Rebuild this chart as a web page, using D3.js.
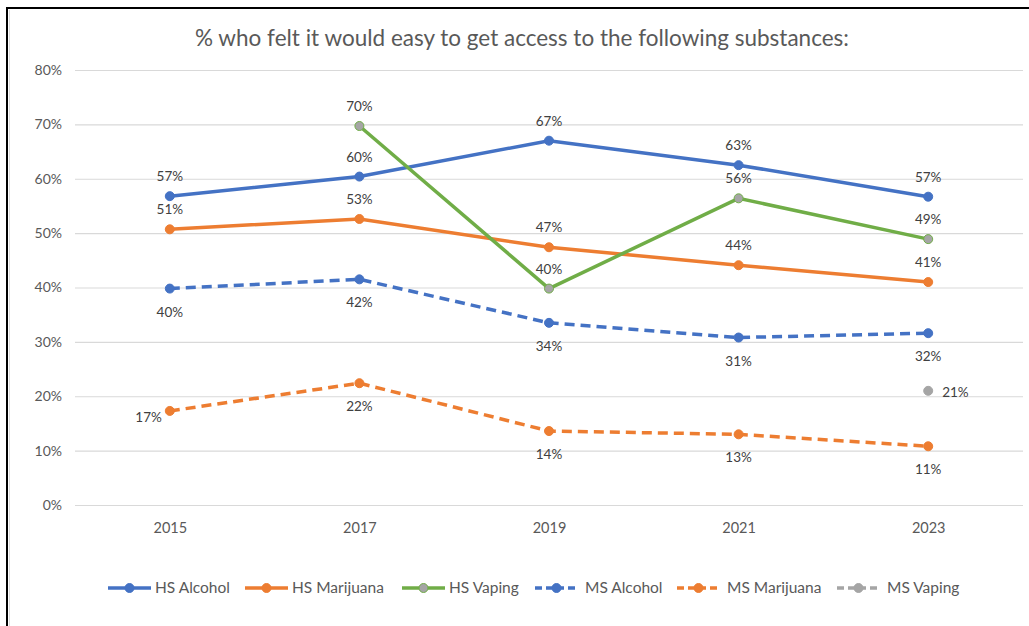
<!DOCTYPE html>
<html>
<head>
<meta charset="utf-8">
<script src="https://cdn.jsdelivr.net/npm/d3@7"></script>
<style>
  body { margin: 0; background: #fff; }
  text { font-family: Lato, "Open Sans", sans-serif; }
</style>
</head>
<body>
<div id="my_dataviz"></div>
<script>
// data
var years = ["2015", "2017", "2019", "2021", "2023"];
var yTicks = [0, 0.1, 0.2, 0.3, 0.4, 0.5, 0.6, 0.7, 0.8];

var hsAlcohol   = [0.568, 0.604, 0.670, 0.625, 0.567];
var hsMarijuana = [0.507, 0.526, 0.474, 0.441, 0.410];
var hsVaping    = [null, 0.697, 0.398, 0.564, 0.489];
var msAlcohol   = [0.398, 0.415, 0.335, 0.308, 0.316];
var msMarijuana = [0.173, 0.224, 0.136, 0.130, 0.108];
var msVaping    = [null, null, null, null, 0.210];

var seriesNames = ["HS Alcohol", "HS Marijuana", "HS Vaping", "MS Alcohol", "MS Marijuana", "MS Vaping"];

var width = 1029, height = 626;

var svg = d3.select("#my_dataviz")
  .append("svg")
  .attr("width", width)
  .attr("height", height);

// frame around the chart (only top and left visible)
svg.append("line").attr("x1", 6).attr("x2", width).attr("y1", 8).attr("y2", 8)
  .attr("stroke", "#000").attr("stroke-width", 2);
svg.append("line").attr("x1", 7).attr("x2", 7).attr("y1", 7).attr("y2", height)
  .attr("stroke", "#000").attr("stroke-width", 2);
svg.append("line").attr("x1", 9.5).attr("x2", 9.5).attr("y1", 10).attr("y2", height)
  .attr("stroke", "#ddd").attr("stroke-width", 1);

var x = d3.scalePoint()
  .domain(years)
  .range([75, 1023])
  .padding(0.5);

var y = d3.scaleLinear()
  .domain([0, 0.8])
  .range([505, 70]);

// title
svg.append("text")
  .attr("x", 522)
  .attr("y", 46)
  .attr("text-anchor", "middle")
  .style("font-size", "22.5px")
  .style("fill", "#595959")
  .text("% who felt it would easy to get access to the following substances:");

// gridlines
svg.append("g")
  .attr("transform", "translate(75,0)")
  .call(d3.axisLeft(y).tickValues(yTicks).tickSize(-948).tickFormat(""))
  .call(function (g) { g.select(".domain").remove(); })
  .selectAll("line")
  .attr("stroke", "#d9d9d9")
  .attr("stroke-width", 1.2);

// y labels
svg.append("g")
  .attr("transform", "translate(62,0)")
  .call(d3.axisLeft(y).tickValues(yTicks).tickSize(0).tickFormat(d3.format(".0%")))
  .call(function (g) { g.select(".domain").remove(); })
  .selectAll("text")
  .style("font-size", "14px")
  .style("font-family", "Lato, sans-serif")
  .attr("fill", "#595959")
  .attr("x", 0);

// x labels
svg.append("g")
  .attr("transform", "translate(0,520)")
  .call(d3.axisBottom(x).tickSize(0))
  .call(function (g) { g.select(".domain").remove(); })
  .selectAll("text")
  .style("font-size", "14.5px")
  .style("font-family", "Lato, sans-serif")
  .attr("fill", "#595959");

var blue = "#4472c4", orange = "#ed7d31", green = "#70ad47", grey = "#a5a5a5";

var series = [
  { name: seriesNames[0], values: hsAlcohol,   color: blue,   dash: null,   fill: blue,   label: "above" },
  { name: seriesNames[1], values: hsMarijuana, color: orange, dash: null,   fill: orange, label: "above" },
  { name: seriesNames[2], values: hsVaping,    color: green,  dash: null,   fill: grey,   label: "above" },
  { name: seriesNames[3], values: msAlcohol,   color: blue,   dash: "10,6", fill: blue,   label: "below" },
  { name: seriesNames[4], values: msMarijuana, color: orange, dash: "10,6", fill: orange, label: "below" },
  { name: seriesNames[5], values: msVaping,    color: grey,   dash: "10,6", fill: grey,   label: "right" }
];

var line = d3.line()
  .defined(function (d) { return d.v != null; })
  .x(function (d) { return x(d.year); })
  .y(function (d) { return y(d.v); });

series.forEach(function (s) {
  var pts = years.map(function (yr, i) { return { year: yr, v: s.values[i] }; });
  svg.append("path")
    .datum(pts)
    .attr("fill", "none")
    .attr("stroke", s.color)
    .attr("stroke-width", 3.5)
    .attr("stroke-dasharray", s.dash)
    .attr("d", line);

  var good = pts.filter(function (d) { return d.v != null; });
  svg.selectAll(null)
    .data(good)
    .enter()
    .append("circle")
    .attr("cx", function (d) { return x(d.year); })
    .attr("cy", function (d) { return y(d.v); })
    .attr("r", 4.5)
    .attr("fill", s.fill)
    .attr("stroke", s.color)
    .attr("stroke-width", 1);

  svg.selectAll(null)
    .data(good)
    .enter()
    .append("text")
    .attr("x", function (d) {
      if (s.name == "MS Marijuana" && d.year == "2015") return x(d.year) - 8;
      if (s.label == "right") return x(d.year) + 14;
      return x(d.year);
    })
    .attr("y", function (d) {
      if (s.name == "MS Marijuana" && d.year == "2015") return y(d.v) + 11;
      if (s.label == "right") return y(d.v) + 6;
      return s.label == "above" ? y(d.v) - 15 : y(d.v) + 28;
    })
    .attr("text-anchor", function (d) {
      if (s.name == "MS Marijuana" && d.year == "2015") return "end";
      if (s.label == "right") return "start";
      return "middle";
    })
    .style("font-size", "13.5px")
    .style("fill", "#404040")
    .text(function (d) { return Math.round(d.v * 100) + "%"; });
});

// legend
var legendX = [108, 245, 402, 535, 677, 837];
var leg = svg.append("g");
series.forEach(function (s, i) {
  var lx = legendX[i];
  leg.append("line")
    .attr("x1", lx).attr("x2", lx + 43)
    .attr("y1", 588).attr("y2", 588)
    .attr("stroke", s.color)
    .attr("stroke-width", 3.5)
    .attr("stroke-dasharray", s.dash ? "7,4" : null);
  leg.append("circle")
    .attr("cx", lx + 21.5).attr("cy", 588).attr("r", 4.5)
    .attr("fill", s.fill).attr("stroke", s.color).attr("stroke-width", 1);
  leg.append("text")
    .attr("x", lx + (s.dash ? 50 : 47))
    .attr("y", 593)
    .style("font-size", "15.5px")
    .style("fill", "#595959")
    .text(s.name);
});
</script>
</body>
</html>
